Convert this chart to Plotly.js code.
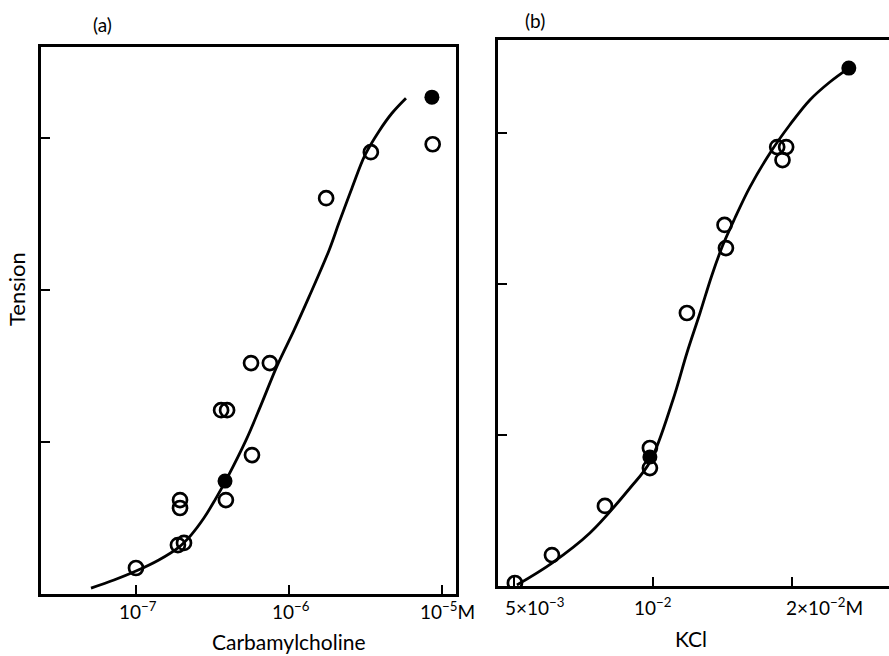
<!DOCTYPE html>
<html>
<head>
<meta charset="utf-8">
<script src="https://cdn.plot.ly/plotly-3.0.1.min.js"></script>
<style>html,body{margin:0;padding:0;background:#fff;overflow:hidden;}</style>
</head>
<body>
<div id="chart" style="width:889px;height:656px;"></div>
<script>
// ---- Panel (a): Carbamylcholine (M) vs Tension ----
const carbOpenX = [1e-7, 1.88e-7, 2.06e-7, 1.94e-7, 1.94e-7, 3.87e-7, 5.73e-7, 3.6e-7, 3.94e-7, 5.65e-7, 7.5e-7, 1.75e-6, 3.43e-6, 8.7e-6];
const carbOpenY = [0.171, 0.322, 0.336, 0.618, 0.566, 0.618, 0.914, 1.21, 1.21, 1.52, 1.52, 2.605, 2.908, 2.96];
const carbFilledX = [3.82e-7, 8.6e-6];
const carbFilledY = [0.743, 3.27];
const carbCurveX = [5.08e-8, 7.18e-8, 1e-7, 1.41e-7, 1.91e-7, 2.29e-7, 2.78e-7, 3.28e-7, 3.94e-7, 5.24e-7, 6.56e-7, 8.35e-7, 1.08e-6, 1.35e-6, 1.83e-6, 2.12e-6, 2.58e-6, 3.14e-6, 3.88e-6, 4.71e-6, 5.82e-6];
const carbCurveY = [0.039, 0.092, 0.151, 0.224, 0.309, 0.388, 0.5, 0.618, 0.763, 1.013, 1.243, 1.5, 1.737, 1.954, 2.263, 2.441, 2.671, 2.888, 3.046, 3.164, 3.263];
const carbTickVals = [1e-7, 1e-6, 1e-5];
const carbTickText = ["10<sup>−7</sup>", "10<sup>−6</sup>", "10<sup>−5</sup>M"];

// ---- Panel (b): KCl (M) vs Tension ----
const kclOpenX = [5.02e-3, 6.04e-3, 7.87e-3, 9.85e-3, 9.85e-3, 1.185e-2, 1.44e-2, 1.43e-2, 1.86e-2, 1.945e-2, 1.91e-2];
const kclOpenY = [0.02, 0.205, 0.53, 0.914, 0.781, 1.808, 2.238, 2.391, 2.907, 2.907, 2.821];
const kclFilledX = [9.85e-3, 2.66e-2];
const kclFilledY = [0.854, 3.43];
const kclCurveX = [5.07e-3, 6.04e-3, 7.30e-3, 8.92e-3, 9.85e-3, 1.105e-2, 1.185e-2, 1.265e-2, 1.343e-2, 1.418e-2, 1.506e-2, 1.623e-2, 1.795e-2, 1.98e-2, 2.19e-2, 2.42e-2, 2.66e-2];
const kclCurveY = [0.007, 0.152, 0.351, 0.649, 0.821, 1.232, 1.543, 1.808, 2.06, 2.258, 2.437, 2.642, 2.868, 3.053, 3.219, 3.338, 3.43];
const kclTickVals = [5e-3, 1e-2, 2e-2];
const kclTickText = ["5×10<sup>−3</sup>", "10<sup>−2</sup>", "2×10<sup>−2</sup>M"];

const tensionTicks = [1, 2, 3];

const FONT = "Lato, 'Open Sans', sans-serif";
const openMarker = {symbol: 'circle-open', size: 14, color: '#000', line: {width: 2.7, color: '#000'}};
const filledMarker = {symbol: 'circle', size: 15, color: '#000'};
const curveLine = {color: '#000', width: 2.8, shape: 'spline', smoothing: 1};

const traces = [
  {x: carbCurveX, y: carbCurveY, mode: 'lines', line: curveLine, xaxis: 'x', yaxis: 'y', hoverinfo: 'skip'},
  {x: carbOpenX, y: carbOpenY, mode: 'markers', marker: openMarker, xaxis: 'x', yaxis: 'y'},
  {x: carbFilledX, y: carbFilledY, mode: 'markers', marker: filledMarker, xaxis: 'x', yaxis: 'y'},
  {x: kclCurveX, y: kclCurveY, mode: 'lines', line: curveLine, xaxis: 'x2', yaxis: 'y2', hoverinfo: 'skip'},
  {x: kclOpenX, y: kclOpenY, mode: 'markers', marker: openMarker, xaxis: 'x2', yaxis: 'y2'},
  {x: kclFilledX, y: kclFilledY, mode: 'markers', marker: filledMarker, xaxis: 'x2', yaxis: 'y2'}
];

const axisCommon = {showgrid: false, zeroline: false, showline: true, linecolor: '#000', linewidth: 3,
  ticks: 'inside', ticklen: 9, tickwidth: 2, tickcolor: '#000', showticklabels: false};

const tickFont = {family: FONT, size: 19, color: '#000'};
const annotations = [];
const carbShift = [2, 2, 6];
carbTickVals.forEach((v, i) => annotations.push({x: Math.log10(v), y: 0, xref: 'x', yref: 'paper', yanchor: 'top', xanchor: 'center', xshift: carbShift[i], yshift: 60, text: carbTickText[i], showarrow: false, font: tickFont}));
const kclShift = [21, 0, 33];
kclTickVals.forEach((v, i) => annotations.push({x: Math.log10(v), y: 0, xref: 'x2', yref: 'paper', yanchor: 'top', xanchor: 'center', xshift: kclShift[i], yshift: 64, text: kclTickText[i], showarrow: false, font: tickFont}));
annotations.push({x: 289/889, y: 1 - 641/656, xref: 'paper', yref: 'paper', xanchor: 'center', yanchor: 'middle', text: 'Carbamylcholine', showarrow: false, font: {family: FONT, size: 21, color: '#000'}});
annotations.push({x: 691/889, y: 1 - 638/656, xref: 'paper', yref: 'paper', xanchor: 'center', yanchor: 'middle', text: 'KCl', showarrow: false, font: {family: FONT, size: 21, color: '#000'}});
annotations.push({x: 16/889, y: 1 - 289/656, xref: 'paper', yref: 'paper', xanchor: 'center', yanchor: 'middle', text: 'Tension', textangle: -90, showarrow: false, font: {family: FONT, size: 22, color: '#000'}});
annotations.push({x: 102/889, y: 1 - 25/656, xref: 'paper', yref: 'paper', xanchor: 'center', yanchor: 'middle', text: '(a)', showarrow: false, font: {family: FONT, size: 19, color: '#000'}});
annotations.push({x: 535/889, y: 1 - 20/656, xref: 'paper', yref: 'paper', xanchor: 'center', yanchor: 'middle', text: '(b)', showarrow: false, font: {family: FONT, size: 19, color: '#000'}});

const layout = {
  width: 889, height: 656, margin: {l: 0, r: 0, t: 0, b: 0},
  paper_bgcolor: '#fff', plot_bgcolor: '#fff', showlegend: false,
  xaxis: Object.assign({}, axisCommon, {type: 'log', domain: [41/889, 456/889], range: [-7.621, -4.908], tickvals: carbTickVals, mirror: true, anchor: 'y'}),
  yaxis: Object.assign({}, axisCommon, {domain: [1 - 594/656, 1 - 47/656], range: [0, 3.6], tickvals: tensionTicks, mirror: true, anchor: 'x'}),
  xaxis2: Object.assign({}, axisCommon, {type: 'log', domain: [498/889, 1], range: [-2.336, -1.488], tickvals: kclTickVals, mirror: true, anchor: 'y2'}),
  yaxis2: Object.assign({}, axisCommon, {domain: [1 - 586/656, 1 - 40/656], range: [0, 3.616], tickvals: tensionTicks, mirror: false, anchor: 'x2'}),
  annotations: annotations
};

Plotly.newPlot('chart', traces, layout, {displayModeBar: false, staticPlot: true});
</script>
</body>
</html>
